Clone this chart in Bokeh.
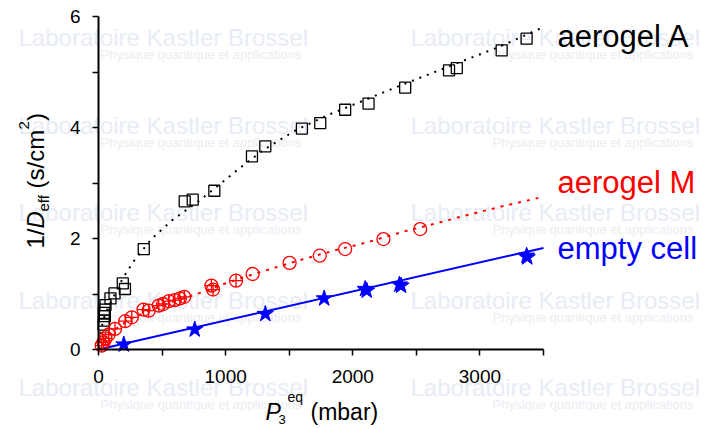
from math import pi
from bokeh.plotting import figure
from bokeh.models import Range1d, FixedTicker, Label
from bokeh.embed import file_html
from bokeh.resources import INLINE

# ---------------- data ----------------
# aerogel A (black open squares)
a_x = [40, 45, 50, 42, 48, 55, 94, 126, 191, 208, 356, 678, 741, 911,
       1207, 1312, 1600, 1744, 1940, 2124, 2412, 2757, 2818, 3171, 3367]
a_y = [0.45, 0.52, 0.60, 0.66, 0.72, 0.80, 0.92, 1.01, 1.19, 1.09, 1.81, 2.67, 2.70, 2.86,
       3.48, 3.66, 3.98, 4.08, 4.32, 4.43, 4.72, 5.03, 5.07, 5.39, 5.60]
# aerogel A fit (dotted black)
a_fit_x = [0, 15, 40, 80, 130, 190, 280, 420, 580, 780, 940, 1100, 1300, 1550,
           1800, 2100, 2400, 2800, 3170, 3470]
a_fit_y = [0, 0.30, 0.55, 0.78, 1.00, 1.28, 1.60, 2.00, 2.33, 2.66, 2.95, 3.25, 3.60, 3.95,
           4.22, 4.50, 4.78, 5.14, 5.47, 5.78]

# aerogel M (red open circles); with visible error crosses / without
m_cross_x = [25, 40, 55, 80, 130, 210, 262, 354, 395, 474, 508, 553, 600, 640, 675, 888, 901, 1082]
m_cross_y = [0.07, 0.13, 0.20, 0.27, 0.37, 0.51, 0.58, 0.72, 0.70, 0.79, 0.82, 0.87, 0.89, 0.92,
             0.95, 1.15, 1.08, 1.24]
m_x = [1212, 1503, 1740, 1940, 2241, 2530]
m_y = [1.36, 1.56, 1.69, 1.81, 1.99, 2.17]
# aerogel M fit (dotted red)
m_fit_x = [0, 20, 50, 100, 170, 260, 380, 500, 640, 775, 985, 1141, 1351, 1613, 1849,
           2110, 2425, 2634, 2896, 3158, 3459]
m_fit_y = [0, 0.08, 0.18, 0.31, 0.43, 0.56, 0.68, 0.79, 0.90, 1.00, 1.18, 1.30, 1.45, 1.63, 1.78,
           1.93, 2.14, 2.26, 2.42, 2.57, 2.73]

# empty cell (blue stars)
e_x = [199, 757, 1312, 1775, 2097, 2110, 2367, 2380, 3367, 3372]
e_y = [0.09, 0.36, 0.64, 0.92, 1.09, 1.06, 1.17, 1.15, 1.69, 1.66]
e_fit_x = [0, 3500]
e_fit_y = [0, 1.83]

x_ticks = [0, 500, 1000, 1500, 2000, 2500, 3000, 3500]
x_tick_labels = ["0", "", "1000", "", "2000", "", "3000", ""]
y_ticks = [0, 1, 2, 3, 4, 5, 6]
y_tick_labels = ["0", "", "2", "", "4", "", "6"]

series_names = ["aerogel A", "aerogel M", "empty cell"]
series_colors = ["black", "red", "blue"]

watermark_title = "Laboratoire  Kastler Brossel"
watermark_sub = "Physique quantique et applications"

# ---------------- figure ----------------
FONT = "Liberation Sans"
W, H = 704, 429
X_MIN, X_MAX, Y_MIN, Y_MAX = 0, 3500, 0, 6
PX_L, PX_R, PY_T, PY_B = 98, 543, 16, 349   # axes box in pixels


def dx(px):
    return X_MIN + (px - PX_L) * (X_MAX - X_MIN) / (PX_R - PX_L)


def dy(py):
    return Y_MIN + (PY_B - py) * (Y_MAX - Y_MIN) / (PY_B - PY_T)


p = figure(width=W, height=H, x_range=Range1d(dx(0), dx(W)), y_range=Range1d(dy(H), dy(0)),
           output_backend="svg", toolbar_location=None,
           min_border_left=0, min_border_right=0, min_border_top=0, min_border_bottom=0)
p.outline_line_color = None
p.grid.visible = False
p.background_fill_color = "white"
p.border_fill_color = "white"

# watermark (faint background text)
for base in [37, 125, 212, 300, 387]:
    for col in [18, 410]:
        p.add_layout(Label(x=dx(col), y=dy(base), text=watermark_title, text_font=FONT,
                           text_font_size="24px", text_color="#e7ecf6", text_baseline="alphabetic",
                           text_align="left", level="image"))
        p.add_layout(Label(x=dx(col + 82), y=dy(base + 17), text=watermark_sub, text_font=FONT,
                           text_font_size="13px", text_color="#eaedf2", text_baseline="alphabetic",
                           text_align="left", level="image"))

# fits
p.line(a_fit_x, a_fit_y, line_color="black", line_width=2, line_dash="2 6")
p.line(m_fit_x, m_fit_y, line_color="red", line_width=2, line_dash="3 6")
p.line(e_fit_x, e_fit_y, line_color="blue", line_width=2)

# markers
p.scatter(a_x, a_y, marker="square", size=11, fill_color=None, line_color="black", line_width=1.3)
p.scatter(m_cross_x, m_cross_y, marker="circle_cross", size=13, fill_color=None,
          line_color="red", line_width=1.3)
p.scatter(m_x, m_y, marker="circle", size=13, fill_color=None, line_color="red", line_width=1.3)
p.scatter(e_x, e_y, marker="star", size=17, fill_color="blue", line_color="blue", line_width=1)

# axes: kept in their side panels, drawn at the data origin
p.xaxis.fixed_location = 0
p.yaxis.fixed_location = 0
p.xaxis.bounds = (X_MIN, X_MAX)
p.yaxis.bounds = (Y_MIN, Y_MAX)
for ax, ticks, labels in [(p.xaxis[0], x_ticks, x_tick_labels), (p.yaxis[0], y_ticks, y_tick_labels)]:
    ax.ticker = FixedTicker(ticks=ticks)
    ax.major_label_overrides = {t: l for t, l in zip(ticks, labels)}
    ax.axis_line_width = 2
    ax.axis_line_color = "black"
    ax.major_tick_line_width = 1.5
    ax.major_tick_line_color = "black"
    ax.major_tick_in = 0
    ax.major_tick_out = 6
    ax.minor_tick_line_color = None
    ax.major_label_text_font = FONT
    ax.major_label_text_font_size = "19px"
    ax.major_label_text_color = "black"
p.xaxis.major_label_standoff = 14
p.yaxis.major_label_standoff = 12


def lab(px, py, text, size, color="black", style="normal", angle=0.0):
    p.add_layout(Label(x=dx(px), y=dy(py), text=text, text_font=FONT, text_font_size=size,
                       text_color=color, text_font_style=style, text_baseline="alphabetic",
                       text_align="left", angle=angle))


# x axis title: P_3^eq (mbar)
lab(265, 411, "P", "23px", style="italic")
lab(278, 419, "3", "13px")
lab(287, 396, "eq", "14px")
lab(310, 411, "(mbar)", "23px")

# y axis title: 1/D_eff (s/cm^2), rotated
lab(35, 248, "1/", "24px", angle=pi / 2)
lab(35, 228, "D", "24px", style="italic", angle=pi / 2)
lab(43, 211, "eff", "15px", angle=pi / 2)
lab(35, 188, "(s/cm", "24px", angle=pi / 2)
lab(23, 129, "2", "15px", angle=pi / 2)
lab(35, 120.5, ")", "24px", angle=pi / 2)

# series names
for name, color, base in zip(series_names, series_colors, [36, 182, 248]):
    lab(557, base, name, "31px", color=color)

open("out.html", "w").write(file_html(p, INLINE))
